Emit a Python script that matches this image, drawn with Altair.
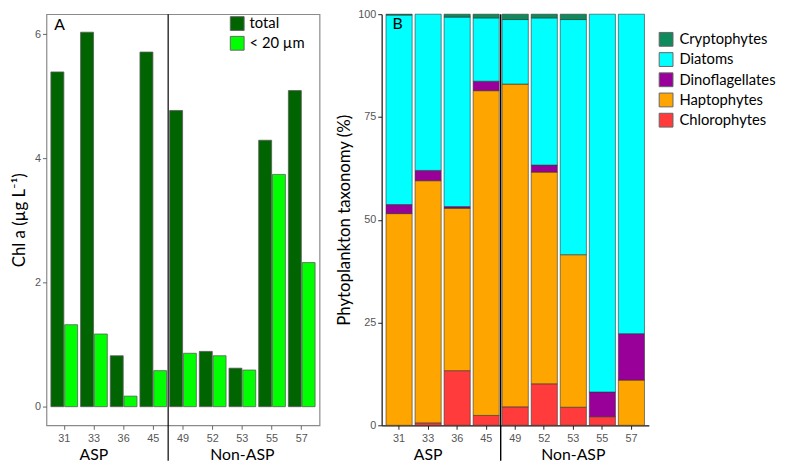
import altair as alt
import pandas as pd

sites = ["31", "33", "36", "45", "49", "52", "53", "55", "57"]
groups = ["ASP", "Non-ASP"]
group_anchor = ["33", "53"]
split_before = "49"

# Panel A: Chl a (ug/L)
size_types = ["total", "< 20 µm"]
chl_total = [5.39, 6.03, 0.82, 5.71, 4.77, 0.89, 0.62, 4.29, 5.09]
chl_small = [1.32, 1.17, 0.17, 0.58, 0.86, 0.82, 0.59, 3.74, 2.32]
size_colors = ["#006400", "#00FF00"]

# Panel B: taxonomy (%), stacked bottom -> top
taxa_stack = ["Chlorophytes", "Haptophytes", "Dinoflagellates", "Diatoms", "Cryptophytes"]
chloro = [0.0, 0.6, 13.3, 2.4, 4.5, 10.1, 4.4, 2.1, 0.0]
hapto = [51.5, 58.9, 39.5, 79.0, 78.5, 51.5, 37.1, 0.0, 11.0]
dino = [2.2, 2.5, 0.4, 2.3, 0.0, 1.7, 0.0, 6.0, 11.3]
diatom = [46.1, 38.0, 46.1, 15.4, 15.7, 35.8, 57.2, 91.9, 77.7]
crypto = [0.2, 0.0, 0.7, 0.9, 1.3, 0.9, 1.3, 0.0, 0.0]
legend_order = ["Cryptophytes", "Diatoms", "Dinoflagellates", "Haptophytes", "Chlorophytes"]
legend_colors = ["#0E8A5C", "#00FFFF", "#990099", "#FFA500", "#FF3B3B"]

# ---------- tables ----------
rowsA = []
for s, t, m in zip(sites, chl_total, chl_small):
    rowsA.append({"site": s, "type": size_types[0], "value": t})
    rowsA.append({"site": s, "type": size_types[1], "value": m})
dfA = pd.DataFrame(rowsA)

rowsB = []
for i, s in enumerate(sites):
    for k, (name, arr) in enumerate(zip(taxa_stack, [chloro, hapto, dino, diatom, crypto])):
        if arr[i] > 0:
            rowsB.append({"site": s, "taxon": name, "pct": arr[i], "ord": k})
dfB = pd.DataFrame(rowsB)

df_groups = pd.DataFrame({"site": group_anchor, "label": groups})
df_split = pd.DataFrame({"site": [split_before]})
df_one = pd.DataFrame({"a": [0]})

H = 417
WA = 277
WB = 271
LABEL_FONT = "Liberation Sans"
TITLE_FONT = "Lato"
LBL_COLOR = "#555555"


def xaxis(dark):
    return alt.Axis(title=None, labelAngle=0, labelFont=LABEL_FONT, labelFontSize=11,
                    labelColor=LBL_COLOR, tickSize=4, labelPadding=3,
                    tickColor="#222222" if dark else "#666666",
                    domain=dark, domainColor="#111111", domainWidth=1.2)


def xenc(dark, **kw):
    return alt.X("site:N", sort=sites,
                 scale=alt.Scale(domain=sites, paddingInner=0.1, paddingOuter=0.15),
                 axis=xaxis(dark), **kw)


# ---------- Panel A ----------
barsA = alt.Chart(dfA).mark_bar(stroke="#5a5a5a", strokeWidth=0.8).encode(
    x=xenc(False),
    xOffset=alt.XOffset("type:N", sort=size_types,
                        scale=alt.Scale(domain=size_types, paddingInner=0.06)),
    y=alt.Y("value:Q",
            scale=alt.Scale(domain=[-0.3, 6.32], nice=False, zero=False),
            axis=alt.Axis(values=[0, 2, 4, 6], title="Chl a (µg L⁻¹)", grid=False,
                          domain=False, tickSize=4, tickColor="#666666",
                          labelFont=LABEL_FONT, labelFontSize=11, labelColor=LBL_COLOR,
                          labelPadding=2, titleFont=TITLE_FONT, titleFontSize=17,
                          titleFontWeight="normal", titleColor="black", titlePadding=6)),
    y2=alt.datum(0),
    color=alt.Color("type:N", sort=size_types,
                    scale=alt.Scale(domain=size_types, range=size_colors),
                    legend=alt.Legend(title=None, orient="none", legendX=186, legendY=2,
                                      symbolType="square", symbolSize=196,
                                      symbolStrokeColor="#666666", symbolStrokeWidth=1,
                                      symbolOpacity=1, labelFont=TITLE_FONT,
                                      labelFontSize=15, labelColor="black",
                                      labelOffset=5, rowPadding=1, padding=0)),
)

splitA = alt.Chart(df_split).mark_rule(color="black", strokeWidth=1.2, xOffset=-1.5).encode(
    x=xenc(False, bandPosition=0),
    y=alt.value(0), y2=alt.value(H + 36))

groupsA = alt.Chart(df_groups).mark_text(font=TITLE_FONT, fontSize=16, baseline="middle",
                                         color="black").encode(
    x=xenc(False), y=alt.value(H + 30), text="label:N")

tagA = alt.Chart(df_one).mark_text(font=TITLE_FONT, fontSize=16, align="left",
                                   baseline="middle", color="black").encode(
    x=alt.value(8), y=alt.value(11), text=alt.value("A"))

panelA = alt.layer(barsA, splitA, groupsA, tagA).properties(
    width=WA, height=H,
    view=alt.ViewBackground(stroke="#8a8a8a", strokeWidth=1.2))

# ---------- Panel B ----------
barsB = alt.Chart(dfB).mark_bar(stroke="#333333", strokeWidth=0.6).encode(
    x=xenc(True),
    y=alt.Y("pct:Q", stack="zero",
            scale=alt.Scale(domain=[0, 100], nice=False, zero=False),
            axis=alt.Axis(values=[0, 25, 50, 75, 100], title="Phytoplankton taxonomy (%)",
                          grid=False, domain=True, domainColor="#111111", domainWidth=1.2,
                          tickSize=4, tickColor="#222222",
                          labelFont=LABEL_FONT, labelFontSize=11, labelColor=LBL_COLOR,
                          labelPadding=2, titleFont=TITLE_FONT, titleFontSize=17,
                          titleFontWeight="normal", titleColor="black", titlePadding=4)),
    color=alt.Color("taxon:N",
                    scale=alt.Scale(domain=legend_order, range=legend_colors),
                    legend=alt.Legend(title=None, orient="none", legendX=281, legendY=18,
                                      symbolType="square", symbolSize=196,
                                      symbolStrokeColor="#666666", symbolStrokeWidth=1,
                                      symbolOpacity=1, labelFont=TITLE_FONT,
                                      labelFontSize=15, labelColor="black",
                                      labelOffset=6, rowPadding=1.5, padding=0)),
    order=alt.Order("ord:Q", sort="ascending"),
)

splitB = alt.Chart(df_split).mark_rule(color="black", strokeWidth=1.4, xOffset=-1.5).encode(
    x=xenc(True, bandPosition=0),
    y=alt.value(0), y2=alt.value(H + 36))

groupsB = alt.Chart(df_groups).mark_text(font=TITLE_FONT, fontSize=16, baseline="middle",
                                         color="black").encode(
    x=xenc(True), y=alt.value(H + 30), text="label:N")

tagB = alt.Chart(df_one).mark_text(font=TITLE_FONT, fontSize=16, align="left",
                                   baseline="middle", color="black").encode(
    x=alt.value(11), y=alt.value(10), text=alt.value("B"))

panelB = alt.layer(barsB, splitB, groupsB, tagB).properties(
    width=WB, height=H,
    view=alt.ViewBackground(stroke="transparent"))

chart = alt.hconcat(panelA, panelB, spacing=15).resolve_scale(
    color="independent", x="independent", y="independent"
).properties(padding={"left": 2, "top": -4, "right": 0, "bottom": 0}
).configure(background="white")

chart.save("out.html", embed_options={"renderer": "svg", "actions": False})
